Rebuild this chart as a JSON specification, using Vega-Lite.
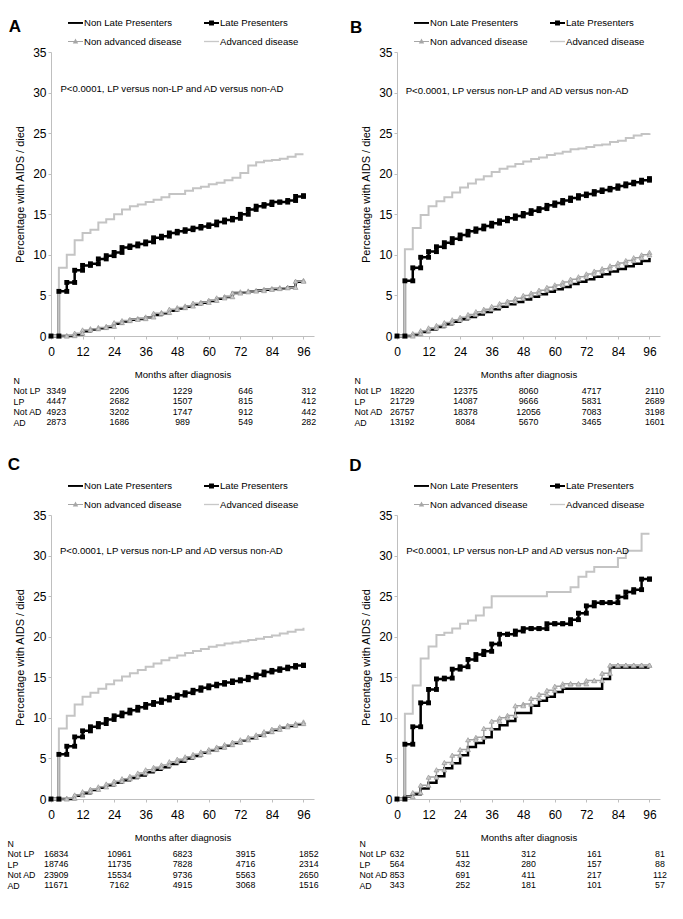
{
  "$schema": "https://vega.github.io/schema/vega-lite/v6.json",
  "background": "white",
  "padding": {"left": 7, "top": 15, "right": 5, "bottom": 5},
  "columns": 2,
  "spacing": {"row": 29, "column": 30},
  "resolve": {"scale": {"fill": "independent", "shape": "independent"}, "legend": {"fill": "independent", "shape": "independent"}},
  "config": {
    "font": "Liberation Sans",
    "view": {"stroke": null},
    "axis": {"grid": false, "domainColor": "#bfbfbf", "tickColor": "#bfbfbf", "labelColor": "#000", "titleColor": "#000", "titleFontWeight": "normal", "labelFlush": false, "labelOverlap": false, "labelFont": "Liberation Sans", "titleFont": "Liberation Sans"}
  },
  "datasets": {
    "curves": [
      {"p":"A","m":0,"NLP":0,"LP":0,"NAD":0,"AD":0},
      {"p":"A","m":3,"NLP":0,"LP":5.5,"NAD":0,"AD":8.4},
      {"p":"A","m":6,"NLP":0,"LP":6.6,"NAD":0.05,"AD":10.0},
      {"p":"A","m":9,"NLP":0.2,"LP":8.1,"NAD":0.35,"AD":11.8},
      {"p":"A","m":12,"NLP":0.6,"LP":8.7,"NAD":0.75,"AD":12.7},
      {"p":"A","m":15,"NLP":0.8,"LP":8.9,"NAD":0.9,"AD":13.1},
      {"p":"A","m":18,"NLP":0.95,"LP":9.5,"NAD":1.05,"AD":14.0},
      {"p":"A","m":21,"NLP":1.1,"LP":9.9,"NAD":1.2,"AD":14.4},
      {"p":"A","m":24,"NLP":1.5,"LP":10.3,"NAD":1.65,"AD":15.0},
      {"p":"A","m":27,"NLP":1.8,"LP":10.9,"NAD":1.9,"AD":15.6},
      {"p":"A","m":30,"NLP":2.0,"LP":11.1,"NAD":2.05,"AD":16.0},
      {"p":"A","m":33,"NLP":2.1,"LP":11.35,"NAD":2.15,"AD":16.2},
      {"p":"A","m":36,"NLP":2.3,"LP":11.6,"NAD":2.35,"AD":16.5},
      {"p":"A","m":39,"NLP":2.6,"LP":12.1,"NAD":2.8,"AD":16.8},
      {"p":"A","m":42,"NLP":2.8,"LP":12.3,"NAD":2.9,"AD":17.1},
      {"p":"A","m":45,"NLP":3.1,"LP":12.7,"NAD":3.3,"AD":17.5},
      {"p":"A","m":48,"NLP":3.4,"LP":12.9,"NAD":3.5,"AD":17.5},
      {"p":"A","m":51,"NLP":3.6,"LP":13.1,"NAD":3.7,"AD":17.9},
      {"p":"A","m":54,"NLP":3.9,"LP":13.3,"NAD":4.05,"AD":18.2},
      {"p":"A","m":57,"NLP":4.1,"LP":13.5,"NAD":4.15,"AD":18.4},
      {"p":"A","m":60,"NLP":4.3,"LP":13.7,"NAD":4.4,"AD":18.7},
      {"p":"A","m":63,"NLP":4.6,"LP":14.05,"NAD":4.7,"AD":18.9},
      {"p":"A","m":66,"NLP":4.8,"LP":14.3,"NAD":4.85,"AD":19.2},
      {"p":"A","m":69,"NLP":5.3,"LP":14.5,"NAD":5.3,"AD":19.5},
      {"p":"A","m":72,"NLP":5.4,"LP":15.0,"NAD":5.45,"AD":20.1},
      {"p":"A","m":75,"NLP":5.5,"LP":15.6,"NAD":5.55,"AD":21.0},
      {"p":"A","m":78,"NLP":5.6,"LP":16.0,"NAD":5.6,"AD":21.4},
      {"p":"A","m":81,"NLP":5.7,"LP":16.2,"NAD":5.75,"AD":21.6},
      {"p":"A","m":84,"NLP":5.8,"LP":16.5,"NAD":5.85,"AD":21.7},
      {"p":"A","m":87,"NLP":5.9,"LP":16.5,"NAD":5.95,"AD":21.85},
      {"p":"A","m":90,"NLP":6.0,"LP":16.7,"NAD":6.0,"AD":22.1},
      {"p":"A","m":93,"NLP":6.7,"LP":17.2,"NAD":6.75,"AD":22.4},
      {"p":"A","m":96,"NLP":6.8,"LP":17.3,"NAD":6.85,"AD":22.4},
      {"p":"B","m":0,"NLP":0,"LP":0,"NAD":0,"AD":0},
      {"p":"B","m":3,"NLP":0,"LP":6.8,"NAD":0,"AD":10.7},
      {"p":"B","m":6,"NLP":0.2,"LP":8.4,"NAD":0.3,"AD":13.3},
      {"p":"B","m":9,"NLP":0.5,"LP":9.7,"NAD":0.65,"AD":14.9},
      {"p":"B","m":12,"NLP":0.8,"LP":10.4,"NAD":1.0,"AD":16.0},
      {"p":"B","m":15,"NLP":1.1,"LP":11.0,"NAD":1.3,"AD":16.6},
      {"p":"B","m":18,"NLP":1.45,"LP":11.5,"NAD":1.65,"AD":17.1},
      {"p":"B","m":21,"NLP":1.75,"LP":12.0,"NAD":2.0,"AD":17.7},
      {"p":"B","m":24,"NLP":2.05,"LP":12.45,"NAD":2.3,"AD":18.3},
      {"p":"B","m":27,"NLP":2.35,"LP":12.9,"NAD":2.65,"AD":18.8},
      {"p":"B","m":30,"NLP":2.65,"LP":13.2,"NAD":3.0,"AD":19.3},
      {"p":"B","m":33,"NLP":2.95,"LP":13.55,"NAD":3.3,"AD":19.7},
      {"p":"B","m":36,"NLP":3.3,"LP":13.9,"NAD":3.65,"AD":20.2},
      {"p":"B","m":39,"NLP":3.6,"LP":14.2,"NAD":4.0,"AD":20.6},
      {"p":"B","m":42,"NLP":3.9,"LP":14.5,"NAD":4.3,"AD":20.9},
      {"p":"B","m":45,"NLP":4.2,"LP":14.8,"NAD":4.65,"AD":21.2},
      {"p":"B","m":48,"NLP":4.5,"LP":15.1,"NAD":5.0,"AD":21.5},
      {"p":"B","m":51,"NLP":4.85,"LP":15.45,"NAD":5.3,"AD":21.8},
      {"p":"B","m":54,"NLP":5.15,"LP":15.7,"NAD":5.65,"AD":22.0},
      {"p":"B","m":57,"NLP":5.45,"LP":16.1,"NAD":6.0,"AD":22.3},
      {"p":"B","m":60,"NLP":5.75,"LP":16.4,"NAD":6.3,"AD":22.5},
      {"p":"B","m":63,"NLP":6.05,"LP":16.7,"NAD":6.65,"AD":22.7},
      {"p":"B","m":66,"NLP":6.4,"LP":17.0,"NAD":7.0,"AD":23.0},
      {"p":"B","m":69,"NLP":6.7,"LP":17.3,"NAD":7.3,"AD":23.1},
      {"p":"B","m":72,"NLP":7.0,"LP":17.5,"NAD":7.65,"AD":23.3},
      {"p":"B","m":75,"NLP":7.3,"LP":17.8,"NAD":8.0,"AD":23.5},
      {"p":"B","m":78,"NLP":7.6,"LP":18.0,"NAD":8.3,"AD":23.6},
      {"p":"B","m":81,"NLP":7.95,"LP":18.2,"NAD":8.65,"AD":23.9},
      {"p":"B","m":84,"NLP":8.25,"LP":18.5,"NAD":9.0,"AD":24.05},
      {"p":"B","m":87,"NLP":8.6,"LP":18.75,"NAD":9.3,"AD":24.4},
      {"p":"B","m":90,"NLP":8.9,"LP":18.95,"NAD":9.65,"AD":24.7},
      {"p":"B","m":93,"NLP":9.25,"LP":19.2,"NAD":10.0,"AD":24.9},
      {"p":"B","m":96,"NLP":9.6,"LP":19.4,"NAD":10.3,"AD":25.0},
      {"p":"C","m":0,"NLP":0,"LP":0,"NAD":0,"AD":0},
      {"p":"C","m":3,"NLP":0,"LP":5.5,"NAD":0,"AD":8.7},
      {"p":"C","m":6,"NLP":0,"LP":6.5,"NAD":0.1,"AD":10.25},
      {"p":"C","m":9,"NLP":0.4,"LP":7.65,"NAD":0.5,"AD":11.65},
      {"p":"C","m":12,"NLP":0.7,"LP":8.4,"NAD":0.9,"AD":12.6},
      {"p":"C","m":15,"NLP":1.1,"LP":8.9,"NAD":1.2,"AD":13.1},
      {"p":"C","m":18,"NLP":1.4,"LP":9.3,"NAD":1.5,"AD":13.6},
      {"p":"C","m":21,"NLP":1.7,"LP":9.8,"NAD":1.85,"AD":14.15},
      {"p":"C","m":24,"NLP":2.0,"LP":10.25,"NAD":2.2,"AD":14.6},
      {"p":"C","m":27,"NLP":2.3,"LP":10.6,"NAD":2.5,"AD":15.1},
      {"p":"C","m":30,"NLP":2.6,"LP":10.95,"NAD":2.8,"AD":15.5},
      {"p":"C","m":33,"NLP":2.9,"LP":11.3,"NAD":3.2,"AD":15.9},
      {"p":"C","m":36,"NLP":3.3,"LP":11.65,"NAD":3.6,"AD":16.3},
      {"p":"C","m":39,"NLP":3.6,"LP":11.9,"NAD":3.9,"AD":16.7},
      {"p":"C","m":42,"NLP":3.9,"LP":12.2,"NAD":4.2,"AD":17.1},
      {"p":"C","m":45,"NLP":4.3,"LP":12.5,"NAD":4.6,"AD":17.4},
      {"p":"C","m":48,"NLP":4.6,"LP":12.8,"NAD":4.9,"AD":17.7},
      {"p":"C","m":51,"NLP":5.0,"LP":13.1,"NAD":5.2,"AD":18.0},
      {"p":"C","m":54,"NLP":5.3,"LP":13.4,"NAD":5.5,"AD":18.25},
      {"p":"C","m":57,"NLP":5.7,"LP":13.7,"NAD":5.8,"AD":18.5},
      {"p":"C","m":60,"NLP":6.0,"LP":13.95,"NAD":6.1,"AD":18.75},
      {"p":"C","m":63,"NLP":6.3,"LP":14.15,"NAD":6.4,"AD":18.95},
      {"p":"C","m":66,"NLP":6.6,"LP":14.35,"NAD":6.7,"AD":19.15},
      {"p":"C","m":69,"NLP":6.9,"LP":14.55,"NAD":7.0,"AD":19.3},
      {"p":"C","m":72,"NLP":7.2,"LP":14.7,"NAD":7.3,"AD":19.45},
      {"p":"C","m":75,"NLP":7.5,"LP":15.0,"NAD":7.6,"AD":19.6},
      {"p":"C","m":78,"NLP":7.8,"LP":15.3,"NAD":7.9,"AD":19.75},
      {"p":"C","m":81,"NLP":8.2,"LP":15.65,"NAD":8.3,"AD":19.95},
      {"p":"C","m":84,"NLP":8.5,"LP":15.85,"NAD":8.6,"AD":20.15},
      {"p":"C","m":87,"NLP":8.8,"LP":16.05,"NAD":8.9,"AD":20.4},
      {"p":"C","m":90,"NLP":9.0,"LP":16.25,"NAD":9.1,"AD":20.6},
      {"p":"C","m":93,"NLP":9.2,"LP":16.45,"NAD":9.3,"AD":20.85},
      {"p":"C","m":96,"NLP":9.4,"LP":16.5,"NAD":9.5,"AD":21.1},
      {"p":"D","m":0,"NLP":0,"LP":0,"NAD":0,"AD":0},
      {"p":"D","m":3,"NLP":0.3,"LP":6.75,"NAD":0.3,"AD":10.5},
      {"p":"D","m":6,"NLP":0.6,"LP":8.9,"NAD":0.8,"AD":14.0},
      {"p":"D","m":9,"NLP":1.3,"LP":11.85,"NAD":1.7,"AD":17.3},
      {"p":"D","m":12,"NLP":2.0,"LP":13.5,"NAD":2.7,"AD":18.8},
      {"p":"D","m":15,"NLP":2.8,"LP":14.8,"NAD":3.6,"AD":20.2},
      {"p":"D","m":18,"NLP":3.8,"LP":14.9,"NAD":4.5,"AD":20.5},
      {"p":"D","m":21,"NLP":4.4,"LP":16.0,"NAD":5.4,"AD":21.0},
      {"p":"D","m":24,"NLP":5.4,"LP":16.3,"NAD":6.1,"AD":21.6},
      {"p":"D","m":27,"NLP":6.4,"LP":17.2,"NAD":7.3,"AD":22.0},
      {"p":"D","m":30,"NLP":6.9,"LP":17.8,"NAD":7.6,"AD":22.6},
      {"p":"D","m":33,"NLP":7.6,"LP":18.2,"NAD":8.7,"AD":23.6},
      {"p":"D","m":36,"NLP":8.6,"LP":19.1,"NAD":9.6,"AD":25.0},
      {"p":"D","m":39,"NLP":9.1,"LP":20.3,"NAD":10.0,"AD":25.0},
      {"p":"D","m":42,"NLP":9.6,"LP":20.3,"NAD":10.3,"AD":25.0},
      {"p":"D","m":45,"NLP":10.6,"LP":20.7,"NAD":11.5,"AD":25.0},
      {"p":"D","m":48,"NLP":10.6,"LP":21.0,"NAD":11.7,"AD":25.0},
      {"p":"D","m":51,"NLP":11.5,"LP":21.0,"NAD":12.4,"AD":25.0},
      {"p":"D","m":54,"NLP":12.1,"LP":21.0,"NAD":12.9,"AD":25.0},
      {"p":"D","m":57,"NLP":12.6,"LP":21.6,"NAD":13.4,"AD":25.5},
      {"p":"D","m":60,"NLP":13.2,"LP":21.6,"NAD":13.9,"AD":25.5},
      {"p":"D","m":63,"NLP":13.6,"LP":21.6,"NAD":14.2,"AD":25.5},
      {"p":"D","m":66,"NLP":13.6,"LP":22.1,"NAD":14.2,"AD":26.1},
      {"p":"D","m":69,"NLP":13.6,"LP":22.9,"NAD":14.2,"AD":27.4},
      {"p":"D","m":72,"NLP":13.6,"LP":23.8,"NAD":14.6,"AD":28.0},
      {"p":"D","m":75,"NLP":13.6,"LP":24.2,"NAD":14.6,"AD":28.6},
      {"p":"D","m":78,"NLP":14.8,"LP":24.2,"NAD":15.5,"AD":28.6},
      {"p":"D","m":81,"NLP":16.2,"LP":24.2,"NAD":16.5,"AD":28.6},
      {"p":"D","m":84,"NLP":16.2,"LP":24.9,"NAD":16.5,"AD":29.7},
      {"p":"D","m":87,"NLP":16.2,"LP":25.5,"NAD":16.5,"AD":30.6},
      {"p":"D","m":90,"NLP":16.2,"LP":25.8,"NAD":16.5,"AD":30.6},
      {"p":"D","m":93,"NLP":16.2,"LP":27.1,"NAD":16.5,"AD":32.7},
      {"p":"D","m":96,"NLP":16.2,"LP":27.1,"NAD":16.5,"AD":32.7}
    ],
    "ntab": [
      {"p":"A","r":"Not LP","m":0,"n":"3349"},{"p":"A","r":"Not LP","m":24,"n":"2206"},{"p":"A","r":"Not LP","m":48,"n":"1229"},{"p":"A","r":"Not LP","m":72,"n":"646"},{"p":"A","r":"Not LP","m":96,"n":"312"},
      {"p":"A","r":"LP","m":0,"n":"4447"},{"p":"A","r":"LP","m":24,"n":"2682"},{"p":"A","r":"LP","m":48,"n":"1507"},{"p":"A","r":"LP","m":72,"n":"815"},{"p":"A","r":"LP","m":96,"n":"412"},
      {"p":"A","r":"Not AD","m":0,"n":"4923"},{"p":"A","r":"Not AD","m":24,"n":"3202"},{"p":"A","r":"Not AD","m":48,"n":"1747"},{"p":"A","r":"Not AD","m":72,"n":"912"},{"p":"A","r":"Not AD","m":96,"n":"442"},
      {"p":"A","r":"AD","m":0,"n":"2873"},{"p":"A","r":"AD","m":24,"n":"1686"},{"p":"A","r":"AD","m":48,"n":"989"},{"p":"A","r":"AD","m":72,"n":"549"},{"p":"A","r":"AD","m":96,"n":"282"},
      {"p":"B","r":"Not LP","m":0,"n":"18220"},{"p":"B","r":"Not LP","m":24,"n":"12375"},{"p":"B","r":"Not LP","m":48,"n":"8060"},{"p":"B","r":"Not LP","m":72,"n":"4717"},{"p":"B","r":"Not LP","m":96,"n":"2110"},
      {"p":"B","r":"LP","m":0,"n":"21729"},{"p":"B","r":"LP","m":24,"n":"14087"},{"p":"B","r":"LP","m":48,"n":"9666"},{"p":"B","r":"LP","m":72,"n":"5831"},{"p":"B","r":"LP","m":96,"n":"2689"},
      {"p":"B","r":"Not AD","m":0,"n":"26757"},{"p":"B","r":"Not AD","m":24,"n":"18378"},{"p":"B","r":"Not AD","m":48,"n":"12056"},{"p":"B","r":"Not AD","m":72,"n":"7083"},{"p":"B","r":"Not AD","m":96,"n":"3198"},
      {"p":"B","r":"AD","m":0,"n":"13192"},{"p":"B","r":"AD","m":24,"n":"8084"},{"p":"B","r":"AD","m":48,"n":"5670"},{"p":"B","r":"AD","m":72,"n":"3465"},{"p":"B","r":"AD","m":96,"n":"1601"},
      {"p":"C","r":"Not LP","m":0,"n":"16834"},{"p":"C","r":"Not LP","m":24,"n":"10961"},{"p":"C","r":"Not LP","m":48,"n":"6823"},{"p":"C","r":"Not LP","m":72,"n":"3915"},{"p":"C","r":"Not LP","m":96,"n":"1852"},
      {"p":"C","r":"LP","m":0,"n":"18746"},{"p":"C","r":"LP","m":24,"n":"11735"},{"p":"C","r":"LP","m":48,"n":"7828"},{"p":"C","r":"LP","m":72,"n":"4716"},{"p":"C","r":"LP","m":96,"n":"2314"},
      {"p":"C","r":"Not AD","m":0,"n":"23909"},{"p":"C","r":"Not AD","m":24,"n":"15534"},{"p":"C","r":"Not AD","m":48,"n":"9736"},{"p":"C","r":"Not AD","m":72,"n":"5563"},{"p":"C","r":"Not AD","m":96,"n":"2650"},
      {"p":"C","r":"AD","m":0,"n":"11671"},{"p":"C","r":"AD","m":24,"n":"7162"},{"p":"C","r":"AD","m":48,"n":"4915"},{"p":"C","r":"AD","m":72,"n":"3068"},{"p":"C","r":"AD","m":96,"n":"1516"},
      {"p":"D","r":"Not LP","m":0,"n":"632"},{"p":"D","r":"Not LP","m":24,"n":"511"},{"p":"D","r":"Not LP","m":48,"n":"312"},{"p":"D","r":"Not LP","m":72,"n":"161"},{"p":"D","r":"Not LP","m":96,"n":"81"},
      {"p":"D","r":"LP","m":0,"n":"564"},{"p":"D","r":"LP","m":24,"n":"432"},{"p":"D","r":"LP","m":48,"n":"280"},{"p":"D","r":"LP","m":72,"n":"157"},{"p":"D","r":"LP","m":96,"n":"88"},
      {"p":"D","r":"Not AD","m":0,"n":"853"},{"p":"D","r":"Not AD","m":24,"n":"691"},{"p":"D","r":"Not AD","m":48,"n":"411"},{"p":"D","r":"Not AD","m":72,"n":"217"},{"p":"D","r":"Not AD","m":96,"n":"112"},
      {"p":"D","r":"AD","m":0,"n":"343"},{"p":"D","r":"AD","m":24,"n":"252"},{"p":"D","r":"AD","m":48,"n":"181"},{"p":"D","r":"AD","m":72,"n":"101"},{"p":"D","r":"AD","m":96,"n":"57"}
    ]
  },
  "concat": [
    {
      "spacing": 44, "bounds": "flush",
      "resolve": {"scale": {"fill": "independent", "shape": "independent"}, "legend": {"fill": "independent", "shape": "independent"}},
      "vconcat": [
        {
          "width": 263, "height": 284,
          "data": {"name": "curves"},
          "transform": [{"filter": "datum.p == 'A'"}, {"fold": ["NLP", "LP", "NAD", "AD"], "as": ["key", "v"]}],
          "layer": [
            {"transform": [{"filter": "datum.key == 'NLP' || datum.key == 'LP'"}],
             "mark": {"type": "line", "interpolate": "step-after", "color": "#000", "strokeWidth": 2.5},
             "encoding": {
               "x": {"field": "m", "type": "quantitative", "scale": {"domain": [0, 96]}, "axis": {"values": [0,12,24,36,48,60,72,84,96], "tickCount": 9, "labelOverlap": false, "labelFlush": false, "title": "Months after diagnosis", "titleFontSize": 9.6, "labelFontSize": 12, "tickSize": 3, "labelPadding": 7, "titlePadding": 12}},
               "y": {"field": "v", "type": "quantitative", "scale": {"domain": [0, 35]}, "axis": {"values": [0,5,10,15,20,25,30,35], "tickCount": 8, "labelOverlap": false, "labelFlush": false, "title": "Percentage with AIDS / died", "titleFontSize": 11, "labelFontSize": 12, "tickSize": 3, "labelPadding": 2, "titlePadding": 7}},
               "detail": {"field": "key"}}},
            {"transform": [{"filter": "datum.key == 'NAD'"}],
             "mark": {"type": "line", "interpolate": "step-after", "color": "#a0a0a0", "strokeWidth": 1.5},
             "encoding": {"x": {"field": "m", "type": "quantitative"}, "y": {"field": "v", "type": "quantitative"}}},
            {"transform": [{"filter": "datum.key == 'AD'"}],
             "mark": {"type": "line", "interpolate": "step-after", "color": "#c4c4c4", "strokeWidth": 2},
             "encoding": {"x": {"field": "m", "type": "quantitative"}, "y": {"field": "v", "type": "quantitative"}}},
            {"transform": [{"filter": "datum.key == 'NAD'"}, {"window": [{"op": "lag", "field": "v", "as": "pv"}], "sort": [{"field": "m"}]}, {"fold": ["v", "pv"], "as": ["corner", "v"]}, {"filter": "isValid(datum.v)"}],
             "mark": {"type": "point", "shape": "triangle-up", "filled": true, "fill": "#cacaca", "stroke": "#999", "strokeWidth": 0.7, "size": 24, "opacity": 1},
             "encoding": {"x": {"field": "m", "type": "quantitative"}, "y": {"field": "v", "type": "quantitative"}}},
            {"transform": [{"filter": "datum.key == 'LP'"}, {"window": [{"op": "lag", "field": "v", "as": "pv"}], "sort": [{"field": "m"}]}, {"fold": ["v", "pv"], "as": ["corner", "v"]}, {"filter": "isValid(datum.v)"}],
             "mark": {"type": "point", "shape": "square", "filled": true, "color": "#000", "size": 24, "opacity": 1},
             "encoding": {"x": {"field": "m", "type": "quantitative"}, "y": {"field": "v", "type": "quantitative"}}},
            {"data": {"values": [{"t": "P<0.0001, LP versus non-LP and AD versus non-AD"}]},
             "mark": {"type": "text", "align": "left", "baseline": "middle", "fontSize": 9.6, "color": "#000"},
             "encoding": {"x": {"datum": 3.6}, "y": {"datum": 30.4}, "text": {"field": "t"}}},
            {"data": {"values": [{"t": "A"}]},
             "mark": {"type": "text", "align": "left", "baseline": "alphabetic", "fontSize": 17, "fontWeight": "bold", "color": "#000"},
             "encoding": {"x": {"datum": -16.1}, "y": {"datum": 37.5}, "text": {"field": "t"}}},
            {"transform": [{"filter": "false"}],
             "mark": {"type": "point", "filled": true, "opacity": 1},
             "encoding": {
               "fill": {"field": "key", "type": "nominal", "scale": {"domain": ["NLP", "NAD", "LP", "AD"], "range": ["#000", "#a6a6a6", "#000", "#c8c8c8"]},
                        "legend": {"orient": "none", "legendX": 17, "legendY": -37, "columns": 2, "columnPadding": 22, "rowPadding": 6, "padding": 0, "title": null, "labelFontSize": 9.6, "labelColor": "#000", "labelOffset": 1, "symbolSize": 225, "symbolStrokeWidth": 0, "labelExpr": "datum.label == 'NLP' ? 'Non Late Presenters' : datum.label == 'LP' ? 'Late Presenters' : datum.label == 'NAD' ? 'Non advanced disease' : 'Advanced disease'"}},
               "shape": {"field": "key", "type": "nominal", "scale": {"domain": ["NLP", "NAD", "LP", "AD"], "range": ["M-1,-0.13H1V0.13H-1Z", "M-1,-0.07H1V0.07H-1ZM0,-0.4L0.36,0.26H-0.36Z", "M-1,-0.13H1V0.13H-1ZM-0.33,-0.33H0.33V0.33H-0.33Z", "M-1,-0.09H1V0.09H-1Z"]},
                        "legend": {"orient": "none", "legendX": 17, "legendY": -37, "columns": 2, "columnPadding": 22, "rowPadding": 6, "padding": 0, "title": null, "labelFontSize": 9.6, "labelColor": "#000", "labelOffset": 1, "symbolSize": 225, "symbolStrokeWidth": 0, "labelExpr": "datum.label == 'NLP' ? 'Non Late Presenters' : datum.label == 'LP' ? 'Late Presenters' : datum.label == 'NAD' ? 'Non advanced disease' : 'Advanced disease'"}}}}
          ]
        },
        {
          "width": 263, "height": 42,
          "data": {"name": "ntab"},
          "transform": [{"filter": "datum.p == 'A'"}],
          "mark": {"type": "text", "font": "Liberation Sans", "fontSize": 8.8, "baseline": "middle", "color": "#000"},
          "encoding": {
            "x": {"field": "m", "type": "quantitative", "scale": {"domain": [-2, 98]}, "axis": null},
            "y": {"field": "r", "type": "nominal", "scale": {"type": "point", "domain": ["N", "Not LP", "LP", "Not AD", "AD"], "padding": 0}, "axis": {"title": null, "domain": false, "ticks": false, "tickSize": 0, "labelAlign": "left", "labelPadding": 38, "labelFont": "Liberation Sans", "labelFontSize": 8.8, "labelColor": "#000"}},
            "text": {"field": "n", "type": "nominal"}}
        }
      ]
    },
    {
      "spacing": 44, "bounds": "flush",
      "resolve": {"scale": {"fill": "independent", "shape": "independent"}, "legend": {"fill": "independent", "shape": "independent"}},
      "vconcat": [
        {
          "width": 263, "height": 284,
          "data": {"name": "curves"},
          "transform": [{"filter": "datum.p == 'B'"}, {"fold": ["NLP", "LP", "NAD", "AD"], "as": ["key", "v"]}],
          "layer": [
            {"transform": [{"filter": "datum.key == 'NLP' || datum.key == 'LP'"}],
             "mark": {"type": "line", "interpolate": "step-after", "color": "#000", "strokeWidth": 2.5},
             "encoding": {
               "x": {"field": "m", "type": "quantitative", "scale": {"domain": [0, 96]}, "axis": {"values": [0,12,24,36,48,60,72,84,96], "tickCount": 9, "labelOverlap": false, "labelFlush": false, "title": "Months after diagnosis", "titleFontSize": 9.6, "labelFontSize": 12, "tickSize": 3, "labelPadding": 7, "titlePadding": 12}},
               "y": {"field": "v", "type": "quantitative", "scale": {"domain": [0, 35]}, "axis": {"values": [0,5,10,15,20,25,30,35], "tickCount": 8, "labelOverlap": false, "labelFlush": false, "title": "Percentage with AIDS / died", "titleFontSize": 11, "labelFontSize": 12, "tickSize": 3, "labelPadding": 2, "titlePadding": 7}},
               "detail": {"field": "key"}}},
            {"transform": [{"filter": "datum.key == 'NAD'"}],
             "mark": {"type": "line", "interpolate": "step-after", "color": "#a0a0a0", "strokeWidth": 1.5},
             "encoding": {"x": {"field": "m", "type": "quantitative"}, "y": {"field": "v", "type": "quantitative"}}},
            {"transform": [{"filter": "datum.key == 'AD'"}],
             "mark": {"type": "line", "interpolate": "step-after", "color": "#c4c4c4", "strokeWidth": 2},
             "encoding": {"x": {"field": "m", "type": "quantitative"}, "y": {"field": "v", "type": "quantitative"}}},
            {"transform": [{"filter": "datum.key == 'NAD'"}, {"window": [{"op": "lag", "field": "v", "as": "pv"}], "sort": [{"field": "m"}]}, {"fold": ["v", "pv"], "as": ["corner", "v"]}, {"filter": "isValid(datum.v)"}],
             "mark": {"type": "point", "shape": "triangle-up", "filled": true, "fill": "#cacaca", "stroke": "#999", "strokeWidth": 0.7, "size": 24, "opacity": 1},
             "encoding": {"x": {"field": "m", "type": "quantitative"}, "y": {"field": "v", "type": "quantitative"}}},
            {"transform": [{"filter": "datum.key == 'LP'"}, {"window": [{"op": "lag", "field": "v", "as": "pv"}], "sort": [{"field": "m"}]}, {"fold": ["v", "pv"], "as": ["corner", "v"]}, {"filter": "isValid(datum.v)"}],
             "mark": {"type": "point", "shape": "square", "filled": true, "color": "#000", "size": 24, "opacity": 1},
             "encoding": {"x": {"field": "m", "type": "quantitative"}, "y": {"field": "v", "type": "quantitative"}}},
            {"data": {"values": [{"t": "P<0.0001, LP versus non-LP and AD versus non-AD"}]},
             "mark": {"type": "text", "align": "left", "baseline": "middle", "fontSize": 9.6, "color": "#000"},
             "encoding": {"x": {"datum": 3.3}, "y": {"datum": 30.25}, "text": {"field": "t"}}},
            {"data": {"values": [{"t": "B"}]},
             "mark": {"type": "text", "align": "left", "baseline": "alphabetic", "fontSize": 17, "fontWeight": "bold", "color": "#000"},
             "encoding": {"x": {"datum": -17.9}, "y": {"datum": 37.3}, "text": {"field": "t"}}},
            {"transform": [{"filter": "false"}],
             "mark": {"type": "point", "filled": true, "opacity": 1},
             "encoding": {
               "fill": {"field": "key", "type": "nominal", "scale": {"domain": ["NLP", "NAD", "LP", "AD"], "range": ["#000", "#a6a6a6", "#000", "#c8c8c8"]},
                        "legend": {"orient": "none", "legendX": 17, "legendY": -37, "columns": 2, "columnPadding": 22, "rowPadding": 6, "padding": 0, "title": null, "labelFontSize": 9.6, "labelColor": "#000", "labelOffset": 1, "symbolSize": 225, "symbolStrokeWidth": 0, "labelExpr": "datum.label == 'NLP' ? 'Non Late Presenters' : datum.label == 'LP' ? 'Late Presenters' : datum.label == 'NAD' ? 'Non advanced disease' : 'Advanced disease'"}},
               "shape": {"field": "key", "type": "nominal", "scale": {"domain": ["NLP", "NAD", "LP", "AD"], "range": ["M-1,-0.13H1V0.13H-1Z", "M-1,-0.07H1V0.07H-1ZM0,-0.4L0.36,0.26H-0.36Z", "M-1,-0.13H1V0.13H-1ZM-0.33,-0.33H0.33V0.33H-0.33Z", "M-1,-0.09H1V0.09H-1Z"]},
                        "legend": {"orient": "none", "legendX": 17, "legendY": -37, "columns": 2, "columnPadding": 22, "rowPadding": 6, "padding": 0, "title": null, "labelFontSize": 9.6, "labelColor": "#000", "labelOffset": 1, "symbolSize": 225, "symbolStrokeWidth": 0, "labelExpr": "datum.label == 'NLP' ? 'Non Late Presenters' : datum.label == 'LP' ? 'Late Presenters' : datum.label == 'NAD' ? 'Non advanced disease' : 'Advanced disease'"}}}}
          ]
        },
        {
          "width": 263, "height": 42,
          "data": {"name": "ntab"},
          "transform": [{"filter": "datum.p == 'B'"}],
          "mark": {"type": "text", "font": "Liberation Sans", "fontSize": 8.8, "baseline": "middle", "color": "#000"},
          "encoding": {
            "x": {"field": "m", "type": "quantitative", "scale": {"domain": [-2, 98]}, "axis": null},
            "y": {"field": "r", "type": "nominal", "scale": {"type": "point", "domain": ["N", "Not LP", "LP", "Not AD", "AD"], "padding": 0}, "axis": {"title": null, "domain": false, "ticks": false, "tickSize": 0, "labelAlign": "left", "labelPadding": 43, "labelFont": "Liberation Sans", "labelFontSize": 8.8, "labelColor": "#000"}},
            "text": {"field": "n", "type": "nominal"}}
        }
      ]
    },
    {
      "spacing": 44, "bounds": "flush",
      "resolve": {"scale": {"fill": "independent", "shape": "independent"}, "legend": {"fill": "independent", "shape": "independent"}},
      "vconcat": [
        {
          "width": 263, "height": 284,
          "data": {"name": "curves"},
          "transform": [{"filter": "datum.p == 'C'"}, {"fold": ["NLP", "LP", "NAD", "AD"], "as": ["key", "v"]}],
          "layer": [
            {"transform": [{"filter": "datum.key == 'NLP' || datum.key == 'LP'"}],
             "mark": {"type": "line", "interpolate": "step-after", "color": "#000", "strokeWidth": 2.5},
             "encoding": {
               "x": {"field": "m", "type": "quantitative", "scale": {"domain": [0, 96]}, "axis": {"values": [0,12,24,36,48,60,72,84,96], "tickCount": 9, "labelOverlap": false, "labelFlush": false, "title": "Months after diagnosis", "titleFontSize": 9.6, "labelFontSize": 12, "tickSize": 3, "labelPadding": 7, "titlePadding": 12}},
               "y": {"field": "v", "type": "quantitative", "scale": {"domain": [0, 35]}, "axis": {"values": [0,5,10,15,20,25,30,35], "tickCount": 8, "labelOverlap": false, "labelFlush": false, "title": "Percentage with AIDS / died", "titleFontSize": 11, "labelFontSize": 12, "tickSize": 3, "labelPadding": 2, "titlePadding": 7}},
               "detail": {"field": "key"}}},
            {"transform": [{"filter": "datum.key == 'NAD'"}],
             "mark": {"type": "line", "interpolate": "step-after", "color": "#a0a0a0", "strokeWidth": 1.5},
             "encoding": {"x": {"field": "m", "type": "quantitative"}, "y": {"field": "v", "type": "quantitative"}}},
            {"transform": [{"filter": "datum.key == 'AD'"}],
             "mark": {"type": "line", "interpolate": "step-after", "color": "#c4c4c4", "strokeWidth": 2},
             "encoding": {"x": {"field": "m", "type": "quantitative"}, "y": {"field": "v", "type": "quantitative"}}},
            {"transform": [{"filter": "datum.key == 'NAD'"}, {"window": [{"op": "lag", "field": "v", "as": "pv"}], "sort": [{"field": "m"}]}, {"fold": ["v", "pv"], "as": ["corner", "v"]}, {"filter": "isValid(datum.v)"}],
             "mark": {"type": "point", "shape": "triangle-up", "filled": true, "fill": "#cacaca", "stroke": "#999", "strokeWidth": 0.7, "size": 24, "opacity": 1},
             "encoding": {"x": {"field": "m", "type": "quantitative"}, "y": {"field": "v", "type": "quantitative"}}},
            {"transform": [{"filter": "datum.key == 'LP'"}, {"window": [{"op": "lag", "field": "v", "as": "pv"}], "sort": [{"field": "m"}]}, {"fold": ["v", "pv"], "as": ["corner", "v"]}, {"filter": "isValid(datum.v)"}],
             "mark": {"type": "point", "shape": "square", "filled": true, "color": "#000", "size": 24, "opacity": 1},
             "encoding": {"x": {"field": "m", "type": "quantitative"}, "y": {"field": "v", "type": "quantitative"}}},
            {"data": {"values": [{"t": "P<0.0001, LP versus non-LP and AD versus non-AD"}]},
             "mark": {"type": "text", "align": "left", "baseline": "middle", "fontSize": 9.6, "color": "#000"},
             "encoding": {"x": {"datum": 3.4}, "y": {"datum": 30.6}, "text": {"field": "t"}}},
            {"data": {"values": [{"t": "C"}]},
             "mark": {"type": "text", "align": "left", "baseline": "alphabetic", "fontSize": 17, "fontWeight": "bold", "color": "#000"},
             "encoding": {"x": {"datum": -16.4}, "y": {"datum": 40.5}, "text": {"field": "t"}}},
            {"transform": [{"filter": "false"}],
             "mark": {"type": "point", "filled": true, "opacity": 1},
             "encoding": {
               "fill": {"field": "key", "type": "nominal", "scale": {"domain": ["NLP", "NAD", "LP", "AD"], "range": ["#000", "#a6a6a6", "#000", "#c8c8c8"]},
                        "legend": {"orient": "none", "legendX": 17, "legendY": -37, "columns": 2, "columnPadding": 22, "rowPadding": 6, "padding": 0, "title": null, "labelFontSize": 9.6, "labelColor": "#000", "labelOffset": 1, "symbolSize": 225, "symbolStrokeWidth": 0, "labelExpr": "datum.label == 'NLP' ? 'Non Late Presenters' : datum.label == 'LP' ? 'Late Presenters' : datum.label == 'NAD' ? 'Non advanced disease' : 'Advanced disease'"}},
               "shape": {"field": "key", "type": "nominal", "scale": {"domain": ["NLP", "NAD", "LP", "AD"], "range": ["M-1,-0.13H1V0.13H-1Z", "M-1,-0.07H1V0.07H-1ZM0,-0.4L0.36,0.26H-0.36Z", "M-1,-0.13H1V0.13H-1ZM-0.33,-0.33H0.33V0.33H-0.33Z", "M-1,-0.09H1V0.09H-1Z"]},
                        "legend": {"orient": "none", "legendX": 17, "legendY": -37, "columns": 2, "columnPadding": 22, "rowPadding": 6, "padding": 0, "title": null, "labelFontSize": 9.6, "labelColor": "#000", "labelOffset": 1, "symbolSize": 225, "symbolStrokeWidth": 0, "labelExpr": "datum.label == 'NLP' ? 'Non Late Presenters' : datum.label == 'LP' ? 'Late Presenters' : datum.label == 'NAD' ? 'Non advanced disease' : 'Advanced disease'"}}}}
          ]
        },
        {
          "width": 263, "height": 42,
          "data": {"name": "ntab"},
          "transform": [{"filter": "datum.p == 'C'"}],
          "mark": {"type": "text", "font": "Liberation Sans", "fontSize": 8.8, "baseline": "middle", "color": "#000"},
          "encoding": {
            "x": {"field": "m", "type": "quantitative", "scale": {"domain": [-2, 98]}, "axis": null},
            "y": {"field": "r", "type": "nominal", "scale": {"type": "point", "domain": ["N", "Not LP", "LP", "Not AD", "AD"], "padding": 0}, "axis": {"title": null, "domain": false, "ticks": false, "tickSize": 0, "labelAlign": "left", "labelPadding": 44, "labelFont": "Liberation Sans", "labelFontSize": 8.8, "labelColor": "#000"}},
            "text": {"field": "n", "type": "nominal"}}
        }
      ]
    },
    {
      "spacing": 44, "bounds": "flush",
      "resolve": {"scale": {"fill": "independent", "shape": "independent"}, "legend": {"fill": "independent", "shape": "independent"}},
      "vconcat": [
        {
          "width": 263, "height": 284,
          "data": {"name": "curves"},
          "transform": [{"filter": "datum.p == 'D'"}, {"fold": ["NLP", "LP", "NAD", "AD"], "as": ["key", "v"]}],
          "layer": [
            {"transform": [{"filter": "datum.key == 'NLP' || datum.key == 'LP'"}],
             "mark": {"type": "line", "interpolate": "step-after", "color": "#000", "strokeWidth": 2.5},
             "encoding": {
               "x": {"field": "m", "type": "quantitative", "scale": {"domain": [0, 96]}, "axis": {"values": [0,12,24,36,48,60,72,84,96], "tickCount": 9, "labelOverlap": false, "labelFlush": false, "title": "Months after diagnosis", "titleFontSize": 9.6, "labelFontSize": 12, "tickSize": 3, "labelPadding": 7, "titlePadding": 12}},
               "y": {"field": "v", "type": "quantitative", "scale": {"domain": [0, 35]}, "axis": {"values": [0,5,10,15,20,25,30,35], "tickCount": 8, "labelOverlap": false, "labelFlush": false, "title": "Percentage with AIDS / died", "titleFontSize": 11, "labelFontSize": 12, "tickSize": 3, "labelPadding": 2, "titlePadding": 7}},
               "detail": {"field": "key"}}},
            {"transform": [{"filter": "datum.key == 'NAD'"}],
             "mark": {"type": "line", "interpolate": "step-after", "color": "#a0a0a0", "strokeWidth": 1.5},
             "encoding": {"x": {"field": "m", "type": "quantitative"}, "y": {"field": "v", "type": "quantitative"}}},
            {"transform": [{"filter": "datum.key == 'AD'"}],
             "mark": {"type": "line", "interpolate": "step-after", "color": "#c4c4c4", "strokeWidth": 2},
             "encoding": {"x": {"field": "m", "type": "quantitative"}, "y": {"field": "v", "type": "quantitative"}}},
            {"transform": [{"filter": "datum.key == 'NAD'"}, {"window": [{"op": "lag", "field": "v", "as": "pv"}], "sort": [{"field": "m"}]}, {"fold": ["v", "pv"], "as": ["corner", "v"]}, {"filter": "isValid(datum.v)"}],
             "mark": {"type": "point", "shape": "triangle-up", "filled": true, "fill": "#cacaca", "stroke": "#999", "strokeWidth": 0.7, "size": 24, "opacity": 1},
             "encoding": {"x": {"field": "m", "type": "quantitative"}, "y": {"field": "v", "type": "quantitative"}}},
            {"transform": [{"filter": "datum.key == 'LP'"}, {"window": [{"op": "lag", "field": "v", "as": "pv"}], "sort": [{"field": "m"}]}, {"fold": ["v", "pv"], "as": ["corner", "v"]}, {"filter": "isValid(datum.v)"}],
             "mark": {"type": "point", "shape": "square", "filled": true, "color": "#000", "size": 24, "opacity": 1},
             "encoding": {"x": {"field": "m", "type": "quantitative"}, "y": {"field": "v", "type": "quantitative"}}},
            {"data": {"values": [{"t": "P<0.0001, LP versus non-LP and AD versus non-AD"}]},
             "mark": {"type": "text", "align": "left", "baseline": "middle", "fontSize": 9.6, "color": "#000"},
             "encoding": {"x": {"datum": 3.5}, "y": {"datum": 30.6}, "text": {"field": "t"}}},
            {"data": {"values": [{"t": "D"}]},
             "mark": {"type": "text", "align": "left", "baseline": "alphabetic", "fontSize": 17, "fontWeight": "bold", "color": "#000"},
             "encoding": {"x": {"datum": -18.2}, "y": {"datum": 40.4}, "text": {"field": "t"}}},
            {"transform": [{"filter": "false"}],
             "mark": {"type": "point", "filled": true, "opacity": 1},
             "encoding": {
               "fill": {"field": "key", "type": "nominal", "scale": {"domain": ["NLP", "NAD", "LP", "AD"], "range": ["#000", "#a6a6a6", "#000", "#c8c8c8"]},
                        "legend": {"orient": "none", "legendX": 17, "legendY": -37, "columns": 2, "columnPadding": 22, "rowPadding": 6, "padding": 0, "title": null, "labelFontSize": 9.6, "labelColor": "#000", "labelOffset": 1, "symbolSize": 225, "symbolStrokeWidth": 0, "labelExpr": "datum.label == 'NLP' ? 'Non Late Presenters' : datum.label == 'LP' ? 'Late Presenters' : datum.label == 'NAD' ? 'Non advanced disease' : 'Advanced disease'"}},
               "shape": {"field": "key", "type": "nominal", "scale": {"domain": ["NLP", "NAD", "LP", "AD"], "range": ["M-1,-0.13H1V0.13H-1Z", "M-1,-0.07H1V0.07H-1ZM0,-0.4L0.36,0.26H-0.36Z", "M-1,-0.13H1V0.13H-1ZM-0.33,-0.33H0.33V0.33H-0.33Z", "M-1,-0.09H1V0.09H-1Z"]},
                        "legend": {"orient": "none", "legendX": 17, "legendY": -37, "columns": 2, "columnPadding": 22, "rowPadding": 6, "padding": 0, "title": null, "labelFontSize": 9.6, "labelColor": "#000", "labelOffset": 1, "symbolSize": 225, "symbolStrokeWidth": 0, "labelExpr": "datum.label == 'NLP' ? 'Non Late Presenters' : datum.label == 'LP' ? 'Late Presenters' : datum.label == 'NAD' ? 'Non advanced disease' : 'Advanced disease'"}}}}
          ]
        },
        {
          "width": 263, "height": 42,
          "data": {"name": "ntab"},
          "transform": [{"filter": "datum.p == 'D'"}],
          "mark": {"type": "text", "font": "Liberation Sans", "fontSize": 8.8, "baseline": "middle", "color": "#000"},
          "encoding": {
            "x": {"field": "m", "type": "quantitative", "scale": {"domain": [0, 96]}, "axis": null},
            "y": {"field": "r", "type": "nominal", "scale": {"type": "point", "domain": ["N", "Not LP", "LP", "Not AD", "AD"], "padding": 0}, "axis": {"title": null, "domain": false, "ticks": false, "tickSize": 0, "labelAlign": "left", "labelPadding": 38, "labelFont": "Liberation Sans", "labelFontSize": 8.8, "labelColor": "#000"}},
            "text": {"field": "n", "type": "nominal"}}
        }
      ]
    }
  ]
}
